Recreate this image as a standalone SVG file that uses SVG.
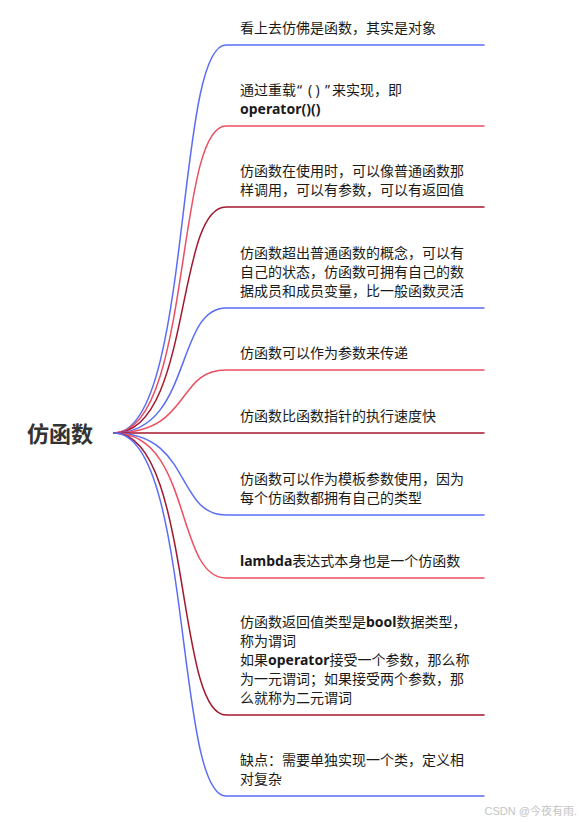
<svg xmlns="http://www.w3.org/2000/svg" width="579" height="822" viewBox="0 0 579 822">
<style>
.bg{fill:#ffffff}
.c{fill:none;stroke-width:1.5;stroke-linecap:round}
.blue{stroke:#5a6ef5}
.red{stroke:#eb4f61}
.dark{stroke:#a3182f}
.t{font-family:"Noto Sans","Noto Sans CJK SC",sans-serif;font-size:14px;fill:#1a1a1a}
.b{font-weight:bold}
.root{font-family:"Noto Sans","Noto Sans CJK SC",sans-serif;font-size:22px;font-weight:bold;fill:#333333}
.wm{font-family:"Liberation Sans","Noto Sans CJK SC",sans-serif;font-size:11px;fill:#c4c4c4}
</style>
<rect class="bg" x="0" y="0" width="579" height="822"/>
<g id="connectors">
<path class="c blue" d="M114,433 C192,433 175,45 226,45 L484,45"/>
<path class="c red" d="M114,433 C192,433 175,126 226,126 L484,126"/>
<path class="c dark" d="M114,433 C192,433 175,207 226,207 L484,207"/>
<path class="c blue" d="M114,433 C192,433 175,308 226,308 L484,308"/>
<path class="c red" d="M114,433 C192,433 175,370 226,370 L484,370"/>
<path class="c dark" d="M114,433 L484,433"/>
<path class="c blue" d="M114,433 C192,433 175,515 226,515 L484,515"/>
<path class="c red" d="M114,433 C192,433 175,578 226,578 L484,578"/>
<path class="c dark" d="M114,433 C192,433 175,715 226,715 L484,715"/>
<path class="c blue" d="M114,433 C192,433 175,796 226,796 L484,796"/>
</g>
<g id="root"><text class="root" x="27" y="442">仿函数</text></g>
<g id="n1"><text class="t" x="240" y="33">看上去仿佛是函数，其实是对象</text></g>
<g id="n2"><text class="t" x="240" y="95">通过重载<tspan x="297">“</tspan><tspan x="308">(</tspan><tspan x="315.5">)</tspan><tspan x="325">”</tspan><tspan x="332">来实现，即</tspan></text><text class="t b" x="240" y="114">operator()()</text></g>
<g id="n3"><text class="t" x="240" y="176">仿函数在使用时，可以像普通函数那</text><text class="t" x="240" y="195">样调用，可以有参数，可以有返回值</text></g>
<g id="n4"><text class="t" x="240" y="258">仿函数超出普通函数的概念，可以有</text><text class="t" x="240" y="277">自己的状态，仿函数可拥有自己的数</text><text class="t" x="240" y="296">据成员和成员变量，比一般函数灵活</text></g>
<g id="n5"><text class="t" x="240" y="358">仿函数可以作为参数来传递</text></g>
<g id="n6"><text class="t" x="240" y="421">仿函数比函数指针的执行速度快</text></g>
<g id="n7"><text class="t" x="240" y="484">仿函数可以作为模板参数使用，因为</text><text class="t" x="240" y="503">每个仿函数都拥有自己的类型</text></g>
<g id="n8"><text class="t" x="240" y="566"><tspan class="b">lambda</tspan>表达式本身也是一个仿函数</text></g>
<g id="n9"><text class="t" x="240" y="627">仿函数返回值类型是<tspan class="b">bool</tspan>数据类型，</text><text class="t" x="240" y="646">称为谓词</text><text class="t" x="240" y="665">如果<tspan class="b">operator</tspan>接受一个参数，那么称</text><text class="t" x="240" y="684">为一元谓词；如果接受两个参数，那</text><text class="t" x="240" y="703">么就称为二元谓词</text></g>
<g id="n10"><text class="t" x="240" y="765">缺点：需要单独实现一个类，定义相</text><text class="t" x="240" y="784">对复杂</text></g>
<g id="watermark"><text class="wm" x="577" y="815" text-anchor="end">CSDN @今夜有雨.</text></g>
</svg>
